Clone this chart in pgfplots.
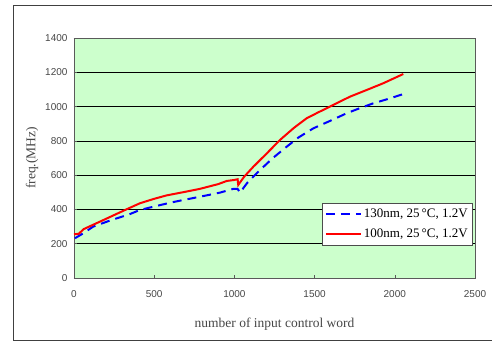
\documentclass[border=0pt]{standalone}
\usepackage{pgfplots}
\pgfplotsset{compat=1.18}
\usepackage{fontspec}
\setmainfont{Liberation Serif}
\newfontfamily\tickfont{Liberation Sans}
\definecolor{bggreen}{RGB}{204,255,204}
\definecolor{axgray}{RGB}{90,90,90}
\definecolor{ticktext}{RGB}{70,70,70}
\begin{document}
\begin{tikzpicture}
\path[use as bounding box] (0pt,0pt) rectangle (492pt,341pt);
\draw[color=black!75,line width=0.8pt] (492pt,336pt) -- (13pt,336pt) -- (13pt,1pt) -- (492pt,1pt);
\begin{axis}[
  at={(74pt,63pt)}, anchor=origin,
  scale only axis, width=401pt, height=240pt,
  xmin=0, xmax=2500, ymin=0, ymax=1400,
  xtick={0,500,...,2500}, ytick={0,200,...,1400},
  axis background/.style={fill=bggreen},
  axis line style={axgray, line width=0.8pt},
  ymajorgrids, grid style={black, line width=0.6pt},
  tick style={axgray, line width=0.6pt},
  tick align=inside, major tick length=3pt,
  xtick pos=bottom, ytick pos=left,
  /pgf/number format/assume math mode=true,
  /pgf/number format/set thousands separator={},
  ticklabel style={font=\tickfont\fontsize{10}{12}\selectfont, text=ticktext},
  xticklabel style={yshift=-9pt},
  yticklabel style={xshift=-3pt},
  xlabel={number of input control word},
  ylabel={freq.(MHz)},
  label style={font=\fontsize{13.5}{15}\selectfont, text=ticktext},
  xlabel style={yshift=-14pt},
  ylabel style={yshift=0pt},
  legend style={at={(0.995,0.313)}, anchor=north east, draw=black!70, fill=white,
    line width=0.6pt,
    font=\fontsize{13}{15}\selectfont, row sep=6pt, inner xsep=3pt, inner ysep=4pt, cells={anchor=west}},
  legend cell align=left,
  legend image code/.code={\draw[#1] (0pt,0pt) -- (35pt,0pt);},
]
\addplot[blue, line width=2pt, dash pattern=on 9pt off 6pt] coordinates {
(6,232) (60,262) (120,300) (224,335) (349,373) (411,397) (500,417) (598,439)
(681,455) (785,474) (910,498) (993,520) (1020,520) (1035,498)
(1080,555) (1160,630) (1240,700) (1326,766) (1400,820) (1492,873)
(1600,918) (1700,961) (1780,990) (1866,1019) (1960,1045) (2053,1073)};
\addlegendentry{130nm, 25\,\textdegree C, 1.2V}
\addplot[red, line width=2pt] coordinates {
(0,255) (30,258) (60,285) (183,338) (328,401) (411,436) (500,462) (578,482)
(700,504) (785,520) (900,548) (952,566) (1000,572) (1020,576) (1024,543)
(1060,590) (1118,649) (1200,725) (1284,805) (1370,875) (1451,932)
(1520,965) (1596,1000) (1660,1030) (1721,1058) (1820,1095) (1928,1136) (2053,1190)};
\addlegendentry{100nm, 25\,\textdegree C, 1.2V}
\end{axis}
\end{tikzpicture}
\end{document}
